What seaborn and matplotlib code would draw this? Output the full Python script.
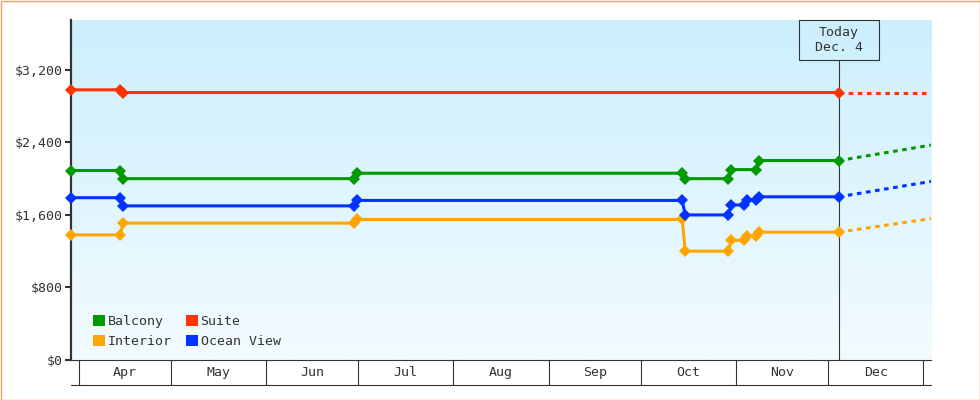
import numpy as np
import pandas as pd
import matplotlib
matplotlib.use("Agg")
import matplotlib.pyplot as plt
import matplotlib.dates as mdates
from matplotlib.patches import Rectangle, Patch
from matplotlib.colors import LinearSegmentedColormap
from matplotlib.ticker import FuncFormatter, FixedLocator
from matplotlib.transforms import blended_transform_factory
import seaborn as sns

# ---------------- data ----------------
cabins = ["Balcony", "Suite", "Interior", "Ocean View"]
colors = ["#009900", "#ff3300", "#ffa500", "#0033ff"]

balcony_dates = ["2023-03-29", "2023-04-14", "2023-04-15", "2023-06-29", "2023-06-30",
                 "2023-10-14", "2023-10-15", "2023-10-29", "2023-10-30", "2023-11-07",
                 "2023-11-08", "2023-12-04"]
balcony_prices = [2090, 2090, 2000, 2000, 2060, 2060, 2000, 2000, 2100, 2100, 2200, 2200]

suite_dates = ["2023-03-29", "2023-04-14", "2023-04-15", "2023-12-04"]
suite_prices = [2980, 2980, 2950, 2950]

interior_dates = ["2023-03-29", "2023-04-14", "2023-04-15", "2023-06-29", "2023-06-30",
                  "2023-10-14", "2023-10-15", "2023-10-29", "2023-10-30", "2023-11-03",
                  "2023-11-04", "2023-11-07", "2023-11-08", "2023-12-04"]
interior_prices = [1380, 1380, 1510, 1510, 1550, 1550, 1200, 1200, 1320, 1320, 1370, 1370, 1410, 1410]

ocean_dates = ["2023-03-29", "2023-04-14", "2023-04-15", "2023-06-29", "2023-06-30",
               "2023-10-14", "2023-10-15", "2023-10-29", "2023-10-30", "2023-11-03",
               "2023-11-04", "2023-11-07", "2023-11-08", "2023-12-04"]
ocean_prices = [1790, 1790, 1700, 1700, 1760, 1760, 1600, 1600, 1710, 1710, 1770, 1770, 1800, 1800]

today = "2023-12-04"
forecast_end = "2024-01-03"
forecast_end_prices = [2370, 2950, 1560, 1970]   # Balcony, Suite, Interior, Ocean View

months = ["Apr", "May", "Jun", "Jul", "Aug", "Sep", "Oct", "Nov", "Dec"]
month_start = "2023-04-01"
y_ticks = [0, 800, 1600, 2400, 3200]
y_max = 3750

# ---------------- frame ----------------
sns.set_theme(style="white")
plt.rcParams["font.family"] = ["DejaVu Sans Mono"]
TXT = "#333333"
FS = 9.5

W, H = 980, 400
L, R, T, B = 71, 931, 20, 360
fig = plt.figure(figsize=(W / 100, H / 100), dpi=100)
fig.patch.set_facecolor("white")
ax = fig.add_axes([L / W, 1 - B / H, (R - L) / W, (B - T) / H])

noon = pd.Timedelta(hours=12)
series = {
    "Balcony": (balcony_dates, balcony_prices),
    "Suite": (suite_dates, suite_prices),
    "Interior": (interior_dates, interior_prices),
    "Ocean View": (ocean_dates, ocean_prices),
}
frames = []
for c in cabins:
    d, p = series[c]
    frames.append(pd.DataFrame({"date": pd.to_datetime(d) + noon, "price": p, "cabin": c}))
df = pd.concat(frames, ignore_index=True)

t_today = pd.Timestamp(today) + noon
t_end = pd.Timestamp(forecast_end) + noon
fc = pd.DataFrame({
    "date": [t_today] * len(cabins) + [t_end] * len(cabins),
    "price": [series[c][1][-1] for c in cabins] + forecast_end_prices,
    "cabin": cabins + cabins,
})
palette = dict(zip(cabins, colors))

# background gradient
grad = np.linspace(0, 1, 256).reshape(-1, 1)
bg = LinearSegmentedColormap.from_list("bg", ["#cceffd", "#f3fbff"])
ax.imshow(grad, extent=[0, 1, 0, 1], transform=ax.transAxes, aspect="auto",
          cmap=bg, zorder=0, interpolation="bilinear")

# forecast (dotted)
sns.lineplot(data=fc, x="date", y="price", hue="cabin", hue_order=cabins, palette=palette,
             estimator=None, legend=False, ax=ax, linewidth=2.2,
             linestyle=(0, (1.5, 1.5)), zorder=3)
# history
sns.lineplot(data=df, x="date", y="price", hue="cabin", hue_order=cabins, palette=palette,
             estimator=None, legend=False, ax=ax, linewidth=2.2, marker="D",
             markersize=6.2, markeredgewidth=0, zorder=4, clip_on=False)

x0 = mdates.date2num(df["date"].min())
x1 = mdates.date2num(t_end)
ax.set_xlim(x0, x1)
ax.set_ylim(0, y_max)
ax.set_autoscale_on(False)

# axes styling
for s in ["top", "right"]:
    ax.spines[s].set_visible(False)
ax.spines["left"].set_color(TXT)
ax.spines["left"].set_linewidth(1.6)
ax.spines["bottom"].set_color(TXT)
ax.spines["bottom"].set_linewidth(0.8)
ax.set_xticks([])
ax.yaxis.set_major_locator(FixedLocator(y_ticks))
ax.yaxis.set_major_formatter(FuncFormatter(lambda v, p: f"${v:,.0f}"))
ax.tick_params(axis="y", which="major", direction="out", length=4.3, width=1.5,
               color=TXT, labelcolor=TXT, labelsize=FS, pad=2, left=True)
ax.set_xlabel("")
ax.set_ylabel("")
ax.grid(False)

# month boxes under the axis
trans = blended_transform_factory(ax.transData, ax.transAxes)
box_h = 25 / (B - T)
bounds = pd.date_range(month_start, periods=len(months) + 1, freq="MS")
bnum = mdates.date2num(bounds)
for b in bnum:
    ax.plot([b, b], [0, -box_h], transform=trans, clip_on=False, color=TXT, lw=0.8)
ax.plot([0, 1], [-box_h, -box_h], transform=ax.transAxes, clip_on=False, color=TXT, lw=0.8)
for m, a, b in zip(months, bnum[:-1], bnum[1:]):
    ax.text((a + b) / 2, -box_h / 2, m, transform=trans, ha="center", va="center",
            fontsize=FS, color=TXT, clip_on=False)

# today marker
tn = mdates.date2num(t_today)
frac = (tn - x0) / (x1 - x0)
bw, bh = 80 / (R - L), 40 / (B - T)
ax.add_patch(Rectangle((frac - bw / 2, 1 - bh), bw, bh, transform=ax.transAxes,
                       fill=False, ec=TXT, lw=0.8, clip_on=False, zorder=5))
ax.text(frac, 1 - bh / 2, f"Today\n{t_today:%b}. {t_today.day}", transform=ax.transAxes,
        ha="center", va="center", fontsize=FS, color=TXT, linespacing=1.25, zorder=5)
ax.axvline(tn, ymin=0, ymax=1 - bh, color=TXT, lw=0.8, zorder=2)

# legend
order = ["Balcony", "Interior", "Suite", "Ocean View"]
handles = [Patch(facecolor=palette[c], edgecolor="none", label=c) for c in order]
leg = ax.legend(handles=handles, ncol=2, loc="lower left",
                bbox_to_anchor=(22 / (R - L), 12 / (B - T)), frameon=False,
                handlelength=0.9, handleheight=0.9, handletextpad=0.2,
                columnspacing=1.1, labelspacing=0.55, borderaxespad=0, borderpad=0,
                fontsize=FS)
for t in leg.get_texts():
    t.set_color(TXT)

# outer border
fig.patches.append(Rectangle((0.5 / W, 0.5 / H), 1 - 1 / W, 1 - 1 / H, transform=fig.transFigure,
                             fill=False, ec="#e6a35a", lw=1.0))

fig.savefig("out.png", dpi=100)
